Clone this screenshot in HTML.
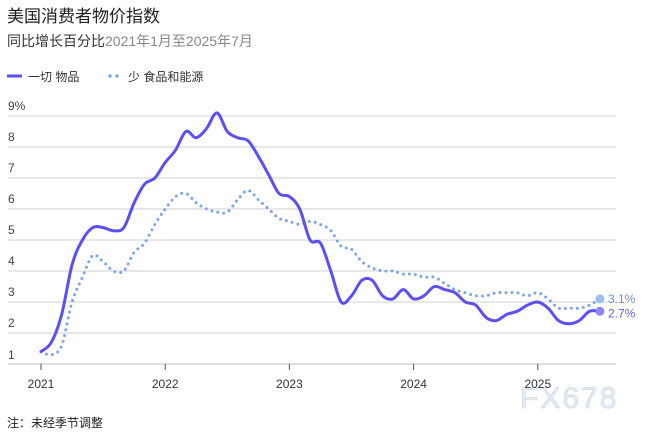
<!DOCTYPE html>
<html><head><meta charset="utf-8"><style>
body{margin:0;background:#fff;width:652px;height:431px;overflow:hidden;font-family:"Liberation Sans","Noto Sans CJK SC",sans-serif}
</style></head><body>
<svg id="s" width="652" height="431" xmlns="http://www.w3.org/2000/svg" font-family="Liberation Sans, Noto Sans CJK SC, sans-serif">
<text x="7" y="22" font-size="17" fill="#222">美国消费者物价指数</text>
<text x="7" y="46" font-size="14" fill="#333">同比增长百分比<tspan fill="#888">2021年1月至2025年7月</tspan></text>
<line x1="7" y1="76" x2="22" y2="76" stroke="#5b4ff5" stroke-width="3"/>
<text x="28" y="81" font-size="12" fill="#333">一切 物品</text>
<circle cx="110" cy="76" r="1.7" fill="#7aa6e6"/><circle cx="117" cy="76" r="1.7" fill="#7aa6e6"/>
<text x="128" y="81" font-size="12" fill="#333">少 食品和能源</text>
<g id="grid" stroke="#d0d0d0" stroke-width="1"></g>
<g id="lab" font-size="12" fill="#444"></g>
<text x="7" y="427" font-size="12" fill="#222">注：未经季节调整</text>
<text x="520" y="408" font-size="30" fill="#e4ecf4" stroke="#c8d4e0" stroke-width="0.6" letter-spacing="2">FX678</text>
</svg>
<script>
var s=document.getElementById('s'),ns='http://www.w3.org/2000/svg';
function el(t,a,p){var e=document.createElementNS(ns,t);for(var k in a)e.setAttribute(k,a[k]);(p||s).appendChild(e);return e;}
function Y(v){return 364-(v-1)*31;}
function X(m){return 41+m*10.35;}
var g=document.getElementById('grid'),lb=document.getElementById('lab');
for(var v=2;v<=9;v++){el('line',{x1:8,x2:616,y1:Y(v),y2:Y(v)},g);var t=el('text',{x:8,y:Y(v)-6},lb);t.textContent=v==9?'9%':v;}
el('line',{x1:8,x2:616,y1:364,y2:364,stroke:'#bbb'});
var t1=el('text',{x:8,y:359},lb);t1.textContent='1';
for(var i=0;i<5;i++){var x=X(i*12);el('line',{x1:x,x2:x,y1:364,y2:370,stroke:'#555'});var t=el('text',{x:x,y:388,'text-anchor':'middle','font-size':12,fill:'#333'});t.textContent=2021+i;}
var a=[1.4,1.7,2.6,4.2,5.0,5.4,5.4,5.3,5.4,6.2,6.8,7.0,7.5,7.9,8.5,8.3,8.6,9.1,8.5,8.3,8.2,7.7,7.1,6.5,6.4,6.0,5.0,4.9,4.0,3.0,3.2,3.7,3.7,3.2,3.1,3.4,3.1,3.2,3.5,3.4,3.3,3.0,2.9,2.5,2.4,2.6,2.7,2.9,3.0,2.8,2.4,2.3,2.4,2.7,2.7];
var c=[1.4,1.3,1.6,3.0,3.8,4.5,4.3,4.0,4.0,4.6,4.9,5.5,6.0,6.4,6.5,6.2,6.0,5.9,5.9,6.3,6.6,6.3,6.0,5.7,5.6,5.5,5.6,5.5,5.3,4.8,4.7,4.3,4.1,4.0,4.0,3.9,3.9,3.8,3.8,3.6,3.4,3.3,3.2,3.2,3.3,3.3,3.3,3.2,3.3,3.1,2.8,2.8,2.8,2.9,3.1];
function path(d){var p=[];for(var i=0;i<d.length;i++){p.push([X(i),Y(d[i])]);}var s='M'+p[0][0]+','+p[0][1];for(var i=0;i<p.length-1;i++){var p0=p[i-1]||p[i],p1=p[i],p2=p[i+1],p3=p[i+2]||p2;var c1=[p1[0]+(p2[0]-p0[0])/6,p1[1]+(p2[1]-p0[1])/6],c2=[p2[0]-(p3[0]-p1[0])/6,p2[1]-(p3[1]-p1[1])/6];s+='C'+c1+' '+c2+' '+p2;}return s;}
el('path',{d:path(c),fill:'none',stroke:'#7aa6e6','stroke-width':3,'stroke-dasharray':'0 6','stroke-linecap':'round'});
el('path',{d:path(a),fill:'none',stroke:'#5b4ff5','stroke-width':3,'stroke-linejoin':'round','stroke-linecap':'round'});
el('circle',{cx:X(54),cy:Y(3.1),r:4.5,fill:'#9ec0ee'});
el('circle',{cx:X(54),cy:Y(2.7),r:4.5,fill:'#8f86f7'});
var t=el('text',{x:608,y:Y(3.1)+4,'font-size':12,fill:'#6a93d0'});t.textContent='3.1%';
t=el('text',{x:608,y:Y(2.7)+6,'font-size':12,fill:'#6a5ff0'});t.textContent='2.7%';
</script>
</body></html>
